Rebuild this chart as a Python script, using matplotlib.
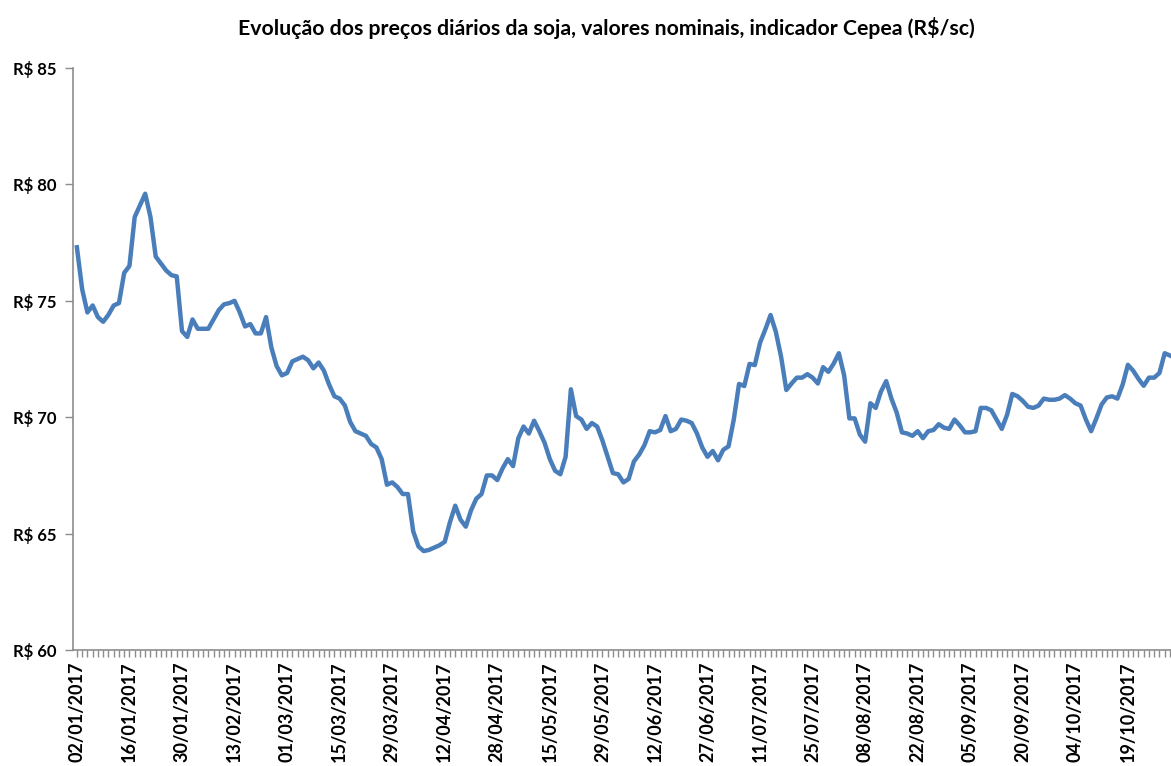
import matplotlib
matplotlib.use("Agg")
import matplotlib.pyplot as plt
import numpy as np

title = "Evolução dos preços diários da soja, valores nominais, indicador Cepea (R$/sc)"

tick_labels = ["02/01/2017", "16/01/2017", "30/01/2017", "13/02/2017", "01/03/2017",
               "15/03/2017", "29/03/2017", "12/04/2017", "28/04/2017", "15/05/2017",
               "29/05/2017", "12/06/2017", "27/06/2017", "11/07/2017", "25/07/2017",
               "08/08/2017", "22/08/2017", "05/09/2017", "20/09/2017", "04/10/2017",
               "19/10/2017"]

prices = [
    77.3, 75.5, 74.5, 74.8, 74.3, 74.1, 74.4, 74.8, 74.9, 76.2,
    76.5, 78.6, 79.1, 79.6, 78.6, 76.9, 76.6, 76.3, 76.1, 76.05,
    73.7, 73.45, 74.2, 73.8, 73.8, 73.8, 74.2, 74.6, 74.85, 74.9,
    75.0, 74.5, 73.9, 74.0, 73.6, 73.6, 74.3, 73.0, 72.2, 71.8,
    71.9, 72.4, 72.5, 72.6, 72.45, 72.1, 72.35, 72.0, 71.4, 70.9,
    70.8, 70.5, 69.8, 69.4, 69.3, 69.2, 68.85, 68.7, 68.2, 67.1,
    67.2, 67.0, 66.7, 66.7, 65.1, 64.45, 64.25, 64.3, 64.4, 64.5,
    64.65, 65.5, 66.2, 65.6, 65.3, 66.0, 66.5, 66.7, 67.5, 67.5,
    67.3, 67.8, 68.2, 67.9, 69.1, 69.6, 69.3, 69.85, 69.4, 68.9,
    68.2, 67.7, 67.55, 68.3, 71.2, 70.05, 69.9, 69.5, 69.75, 69.6,
    69.0, 68.3, 67.6, 67.55, 67.2, 67.35, 68.1, 68.4, 68.8, 69.4,
    69.35, 69.45, 70.05, 69.4, 69.5, 69.9, 69.85, 69.75, 69.3, 68.7,
    68.3, 68.55, 68.15, 68.6, 68.75, 69.9, 71.43, 71.34, 72.29, 72.24,
    73.2, 73.77, 74.39, 73.67, 72.6, 71.17, 71.45, 71.7, 71.7, 71.85,
    71.7, 71.45, 72.15, 71.95, 72.3, 72.75, 71.8, 69.95, 69.95, 69.25,
    68.95, 70.6, 70.4, 71.1, 71.55, 70.8, 70.2, 69.35, 69.3, 69.2,
    69.4, 69.1, 69.4, 69.45, 69.7, 69.55, 69.5, 69.9, 69.65, 69.35,
    69.35, 69.4, 70.4, 70.4, 70.3, 69.9, 69.5, 70.1, 71.0, 70.9,
    70.7, 70.45, 70.4, 70.5, 70.8, 70.75, 70.75, 70.8, 70.95, 70.8,
    70.6, 70.5, 69.9, 69.4, 69.95, 70.55, 70.85, 70.9, 70.8, 71.4,
    72.25, 72.0, 71.65, 71.35, 71.7, 71.7, 71.9, 72.75, 72.65,
]

y_ticks = [60, 65, 70, 75, 80, 85]
label_step = 10

plt.rcParams['font.family'] = ['Lato', 'DejaVu Sans']

fig = plt.figure(figsize=(11.71, 7.66), dpi=100)
ax = fig.add_axes([0.0623, 0.1514, 0.9377, 0.7598])

x = np.arange(len(prices))
ax.plot(x, prices, color="#4a7ebb", lw=3.2, solid_joinstyle="round")

ax.set_ylim(60, 85)
ax.set_xlim(-0.75, 208.2)
ax.set_yticks(y_ticks)
ax.set_yticklabels([f"R$ {v}" for v in y_ticks], fontsize=12, fontweight="bold")

ax.set_xticks(np.arange(0, len(tick_labels) * label_step, label_step))
ax.set_xticklabels(tick_labels, rotation=90, fontsize=13, fontweight="bold")
ax.set_xticks(x, minor=True)

ax.tick_params(axis="x", which="both", direction="out", length=5, width=1,
               color="#8c8c8c", pad=3)
ax.tick_params(axis="y", which="major", direction="out", length=6, width=1,
               color="#8c8c8c", pad=6)

for s in ["top", "right"]:
    ax.spines[s].set_visible(False)
for s in ["left", "bottom"]:
    ax.spines[s].set_color("#8c8c8c")
    ax.spines[s].set_linewidth(1.2)

fig.text(0.518, 0.963, title, ha="center", va="center", fontsize=15.3, fontweight="bold")

fig.savefig("out.png", dpi=100)
